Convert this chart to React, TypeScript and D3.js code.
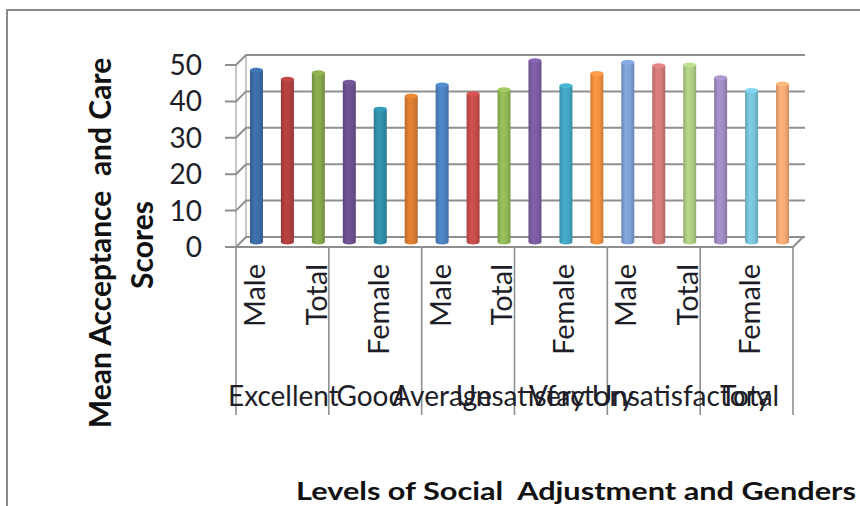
import React from "react";
import * as d3 from "d3";

// Social adjustment levels (outer axis) and genders (inner axis)
const levels = ["Excellent", "Good", "Average", "Unsatisfactory", "Very Unsatisfactory", "Total"];
const genders = ["Male", "Female", "Total"];

// Mean acceptance and care score for each level × gender
const scores = [
  47.2, 44.7, 46.5,
  43.9, 36.5, 40.1,
  43.1, 40.7, 41.8,
  49.8, 42.9, 46.3,
  49.4, 48.4, 48.6,
  45.1, 41.6, 43.4,
];

const yTicks = [0, 10, 20, 30, 40, 50];

// Colours vary by point (darker shades, base accents, lighter tints)
const barColors = [
  "#3d6ca8", "#b0403d", "#86a64a", "#6c5190", "#318ea8", "#d97c30",
  "#4d80c0", "#c54d4a", "#93b957", "#7b5ca2", "#42a6c2", "#f28f3f",
  "#7d9fd3", "#d27b79", "#aece84", "#a08bc2", "#78c4da", "#f8aa74",
];

// Small horizontal nudges of the overlapping outer labels
const levelLabelNudge = [1, -5, -26, -16, -4, 3];

const W = 860;
const H = 506;
const FONT = "Lato, 'Open Sans', sans-serif";
const GRID = "#8f8f8f";
const TEXT = "#1e1e28";
const PRE = { whiteSpace: "pre" as const };

export default function App() {
  const left = 236;
  const right = 793;
  const floorY = 247;
  const depth = 10;

  const keys = scores.map((_, i) => i);
  const x = d3.scaleBand<number>().domain(keys).range([left, right]).paddingInner(0).paddingOuter(0);
  const y = d3.scaleLinear().domain([0, 50]).range([floorY, 65]);
  const bw = 13;
  const half = depth / 2;

  const groupX = d3.range(levels.length + 1).map((g) =>
    g < levels.length ? (x(g * 3) as number) : right
  );

  return (
    <svg width={W} height={H} style={{ position: "absolute", left: 0, top: 0, background: "#fff" }}>
      <defs>
        {barColors.map((c, i) => {
          const base = d3.color(c)!;
          return (
            <linearGradient key={i} id={`cyl${i}`} x1="0" x2="1" y1="0" y2="0">
              <stop offset="0%" stopColor={base.darker(0.45).formatHex()} />
              <stop offset="35%" stopColor={base.brighter(0.15).formatHex()} />
              <stop offset="70%" stopColor={base.formatHex()} />
              <stop offset="100%" stopColor={base.darker(0.5).formatHex()} />
            </linearGradient>
          );
        })}
      </defs>

      {/* chart frame */}
      <path d={`M7,${H} L7,10 L${W},10`} fill="none" stroke="#8a8a8a" strokeWidth={2} />

      {/* walls and gridlines */}
      <g stroke={GRID} fill="none" strokeWidth={2}>
        <line x1={left} y1={y(0)} x2={left} y2={y(50)} strokeWidth={1.5} stroke="#b5b5b5" />
        <line x1={left + depth} y1={y(0) - depth} x2={left + depth} y2={y(50) - depth} strokeWidth={1.5} stroke="#b5b5b5" />
        {yTicks.map((t) => (
          <path
            key={t}
            d={`M${left - 11},${y(t)} L${left},${y(t)} L${left + depth},${y(t) - depth} L${right + depth + 2},${y(t) - depth}`}
          />
        ))}
        {/* floor edges */}
        <path d={`M${left},${floorY} L${right},${floorY} L${right + depth},${floorY - depth}`} />
      </g>

      {/* cylinders */}
      <g>
        {scores.map((v, i) => {
          const cx = (x(i) as number) + x.bandwidth() / 2 + half;
          const yb = y(0) - half;
          const yt = y(v) - half;
          const rx = bw / 2;
          const ry = 2.5;
          return (
            <g key={i}>
              <path
                d={`M${cx - rx},${yt} L${cx - rx},${yb} A${rx},${ry} 0 0 0 ${cx + rx},${yb} L${cx + rx},${yt} Z`}
                fill={`url(#cyl${i})`}
              />
              <ellipse cx={cx} cy={yt} rx={rx} ry={ry} fill={d3.color(barColors[i])!.brighter(0.25).formatHex()} />
            </g>
          );
        })}
      </g>

      {/* y tick labels */}
      <g fontFamily={FONT} fontSize={28} fill={TEXT} textAnchor="end">
        {yTicks.map((t) => (
          <text key={t} x={202} y={y(t)} dy="0.36em">
            {t}
          </text>
        ))}
      </g>

      {/* outer category dividers */}
      <g stroke={GRID} strokeWidth={1.6}>
        {groupX.map((gx, g) => (
          <line key={g} x1={gx} y1={floorY} x2={gx} y2={415} />
        ))}
      </g>

      {/* inner gender labels, every second point */}
      <g fontFamily={FONT} fontSize={29} fill={TEXT} textAnchor="end">
        {keys
          .filter((i) => i % 2 === 0)
          .map((i) => {
            const cx = (x(i) as number) + x.bandwidth() / 2 + 3;
            return (
              <text key={i} transform={`translate(${cx},264) rotate(-90)`} dy="0.36em">
                {genders[i % 3]}
              </text>
            );
          })}
      </g>

      {/* outer level labels */}
      <g fontFamily={FONT} fontSize={28} fill={TEXT} textAnchor="middle">
        {levels.map((l, g) => (
          <text key={l} x={(groupX[g] + groupX[g + 1]) / 2 + levelLabelNudge[g]} y={406}>
            {l}
          </text>
        ))}
      </g>

      {/* axis titles */}
      <g fontFamily={FONT} fontWeight="bold" fill="#111" textAnchor="middle">
        <text fontSize={30} transform="translate(100,243) rotate(-90)" dy="0.36em" style={PRE}>
          {"Mean Acceptance  and Care"}
        </text>
        <text fontSize={30} transform="translate(142,245) rotate(-90)" dy="0.36em">
          Scores
        </text>
        <text fontSize={24} transform="translate(576,500) scale(1.28,1)" style={PRE}>
          {"Levels of Social  Adjustment and Genders"}
        </text>
      </g>
    </svg>
  );
}
